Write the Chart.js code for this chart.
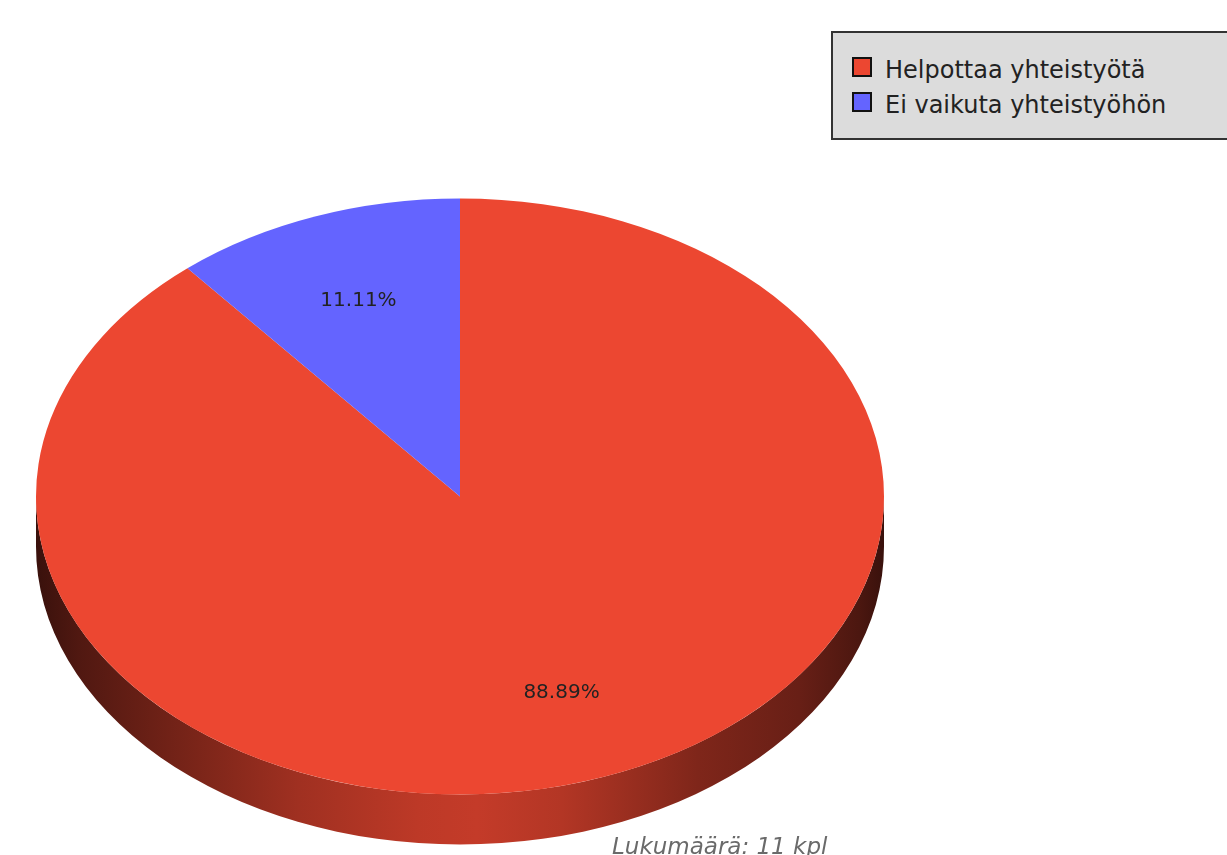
<!DOCTYPE html>
<html>
<head>
<meta charset="utf-8">
<script src="https://cdn.jsdelivr.net/npm/chart.js@4"></script>
<style>
  html, body { margin: 0; padding: 0; background: #fff; }
  #wrap { position: relative; width: 1227px; height: 855px; overflow: hidden; }
  #c { position: absolute; left: 0; top: 0; }
  #legend { position: absolute; left: 831px; top: 31px; width: 420px; height: 105px;
            border: 2px solid #333; background: #dcdcdc; }
  .item { position: absolute; left: 19px; font: 24px "DejaVu Sans", sans-serif; line-height: 24px;
          color: #222; white-space: nowrap; }
  .sw { position: absolute; left: 0; width: 16px; height: 16px; border: 2px solid #111; }
  .lbl { position: absolute; left: 33px; top: 0; }
  #caption { position: absolute; left: 612px; top: 835px; font: italic 23px "DejaVu Sans", sans-serif;
             line-height: 23px; color: #6a6a6a; white-space: nowrap; }
</style>
</head>
<body>
<div id="wrap">
  <canvas id="c" width="1227" height="855"></canvas>
  <div id="legend"></div>
  <div id="caption"></div>
</div>
<script>
// ---- data ----
const categories = ["Helpottaa yhteistyötä", "Ei vaikuta yhteistyöhön"];
const values = [8, 1];
const colors = ["#ec4731", "#6464ff"];
const countLabel = "Lukumäärä";
const respondentCount = 11;
const countUnit = "kpl";

// ---- layout / style ----
const PIE_RADIUS = 424;
const Y_SCALE = 298 / 424;
const DEPTH = 50;
const LABEL_POS = 0.7;

function hexToRgb(h) {
  const n = parseInt(h.slice(1), 16);
  return [(n >> 16) & 255, (n >> 8) & 255, n & 255];
}
function shade(rgb, f) {
  return "rgb(" + rgb.map(v => Math.round(v * f)).join(",") + ")";
}
const sideStops = [[0, 0.24], [0.05, 0.34], [0.19, 0.52], [0.31, 0.68], [0.45, 0.8],
                   [0.52, 0.83], [0.62, 0.76], [0.78, 0.54], [0.9, 0.44], [0.97, 0.32], [1, 0.24]];

const pie3d = {
  id: "pie3d",
  beforeDatasetsDraw(chart) {
    const ctx = chart.ctx;
    const arcs = chart.getDatasetMeta(0).data;
    ctx.save();
    arcs.forEach((arc, i) => {
      const { x, y, startAngle, endAngle, outerRadius } = arc.getProps(["x", "y", "startAngle", "endAngle", "outerRadius"]);
      const ry = outerRadius * Y_SCALE;
      const rgb = hexToRgb(colors[i]);
      const grad = ctx.createLinearGradient(x - outerRadius, 0, x + outerRadius, 0);
      sideStops.forEach(([p, f]) => grad.addColorStop(p, shade(rgb, f)));
      [[0, Math.PI], [2 * Math.PI, 3 * Math.PI]].forEach(([lo, hi]) => {
        const a = Math.max(startAngle, lo), b = Math.min(endAngle, hi);
        if (b <= a) return;
        ctx.beginPath();
        ctx.ellipse(x, y, outerRadius, ry, 0, a, b, false);
        ctx.ellipse(x, y + DEPTH, outerRadius, ry, 0, b, a, true);
        ctx.closePath();
        ctx.fillStyle = grad;
        ctx.fill();
      });
    });
    const a0 = arcs[0];
    ctx.translate(a0.x, a0.y);
    ctx.scale(1, Y_SCALE);
    ctx.translate(-a0.x, -a0.y);
  },
  afterDatasetsDraw(chart) {
    const ctx = chart.ctx;
    ctx.restore();
    const arcs = chart.getDatasetMeta(0).data;
    const total = values.reduce((s, v) => s + v, 0);
    ctx.save();
    ctx.font = '20px "DejaVu Sans", sans-serif';
    ctx.fillStyle = "#222";
    ctx.textAlign = "center";
    ctx.textBaseline = "middle";
    arcs.forEach((arc, i) => {
      const { x, y, startAngle, endAngle, outerRadius } = arc.getProps(["x", "y", "startAngle", "endAngle", "outerRadius"]);
      const mid = (startAngle + endAngle) / 2;
      const lx = x + Math.cos(mid) * outerRadius * LABEL_POS;
      const ly = y + Math.sin(mid) * outerRadius * LABEL_POS * Y_SCALE;
      ctx.fillText((values[i] / total * 100).toFixed(2) + "%", lx, ly);
    });
    ctx.restore();
  }
};

new Chart(document.getElementById("c"), {
  type: "pie",
  data: {
    labels: categories,
    datasets: [{ data: values, backgroundColor: colors, borderWidth: 0 }]
  },
  options: {
    responsive: false,
    animation: false,
    radius: PIE_RADIUS,
    layout: { padding: { left: 36, right: 343, top: 150, bottom: 12 } },
    plugins: { legend: { display: false }, tooltip: { enabled: false } },
    events: []
  },
  plugins: [pie3d]
});

// legend & caption as real text
const legend = document.getElementById("legend");
categories.forEach((cat, i) => {
  const item = document.createElement("div");
  item.className = "item";
  item.style.top = (25 + i * 35) + "px";
  const sw = document.createElement("div");
  sw.className = "sw";
  sw.style.background = colors[i];
  sw.style.top = "-1px";
  const lbl = document.createElement("span");
  lbl.className = "lbl";
  lbl.textContent = cat;
  item.appendChild(sw);
  item.appendChild(lbl);
  legend.appendChild(item);
});
document.getElementById("caption").textContent = countLabel + ": " + respondentCount + " " + countUnit;
</script>
</body>
</html>
